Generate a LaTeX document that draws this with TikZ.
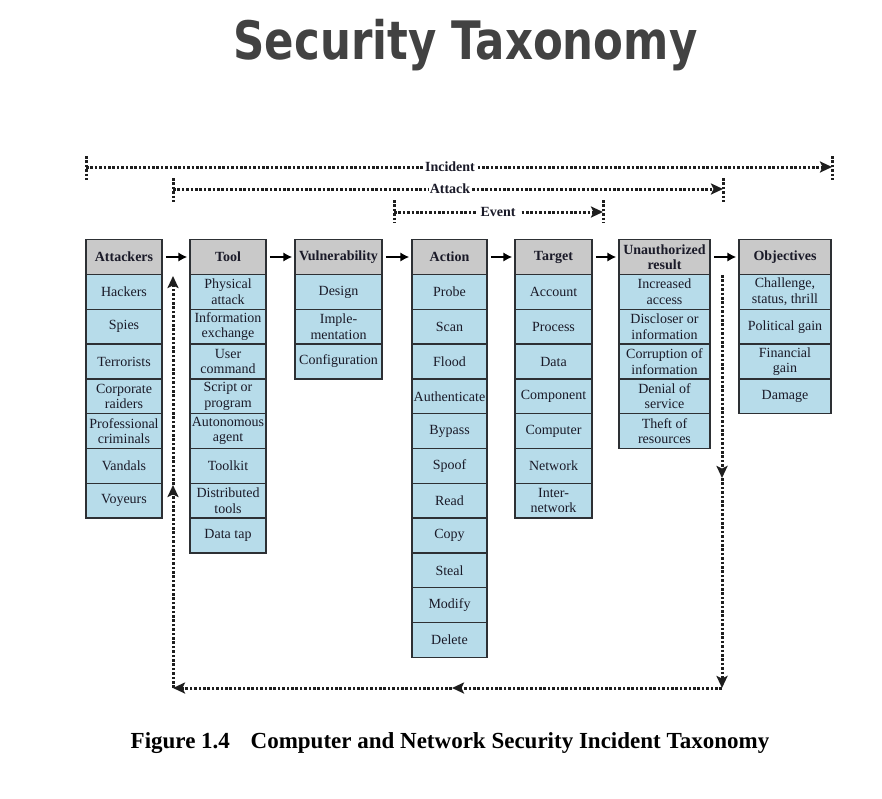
\documentclass[tikz,border=0pt]{standalone}
\usepackage{fontspec}
\usepackage{graphicx}
\setmainfont{Liberation Serif}
\newfontfamily\titlefont{DejaVu Sans}
\usetikzlibrary{arrows.meta}
\definecolor{hdrfill}{RGB}{201,201,201}
\definecolor{cellfill}{RGB}{183,220,234}
\definecolor{boxline}{RGB}{45,48,52}
\definecolor{txt}{RGB}{26,26,40}
\definecolor{titlegray}{RGB}{66,66,66}
\definecolor{dotcol}{RGB}{30,30,30}
\newcommand\taxcol[5]{%
  \node[hdr, minimum width=#3] (#1) at (#2,257) {#4};
  \foreach \t [count=\k] in {#5} {
    \node[cell, minimum width=#3] (#1-\k) at (#2, 274.5+34.8*\k-17.4) {\t};
  }
}
\tikzset{
  hdr/.style={draw=boxline, fill=hdrfill, line width=1.5, minimum height=34.8,
    inner sep=0pt, align=center, text=txt,
    font=\bfseries\fontsize{14}{14.5}\selectfont},
  cell/.style={draw=boxline, fill=cellfill, line width=1.5, minimum height=34.8,
    inner sep=0pt, align=center, text=txt,
    font=\fontsize{14}{15.5}\selectfont},
  flow/.style={line width=2.8, black, -{Latex[length=9,width=9.5]}},
  dotline/.style={line width=3, dotcol, dash pattern=on 2.6pt off 1.8pt},
  dotarrow/.style={dotline, -{Stealth[length=12,width=11,inset=2.5]}},
  rlabel/.style={fill=white, inner xsep=1pt, inner ysep=0pt, text=txt,
    font=\bfseries\fontsize{14}{14}\selectfont},
}
\begin{document}
\begin{tikzpicture}[x=1pt,y=-1pt]
\useasboundingbox (0,0) rectangle (882,798);
% title
\node[anchor=base, text=titlegray, font=\titlefont\bfseries\fontsize{53}{53}\selectfont] (title) at (465.5,59)
  {\scalebox{0.82}[1]{Security Taxonomy}};
% range lines
\coordinate (incL) at (86,167);
\coordinate (incR) at (832,167);
\coordinate (attL) at (173,189);
\coordinate (attR) at (723,189);
\coordinate (evL) at (394,212);
\coordinate (evR) at (603,212);
\draw[dotline] ([yshift=11]incL) -- ([yshift=-13]incL);
\draw[dotline] ([yshift=11]incR) -- ([yshift=-13]incR);
\draw[dotline] ([yshift=11]attL) -- ([yshift=-13]attL);
\draw[dotline] ([yshift=11]attR) -- ([yshift=-13]attR);
\draw[dotline] ([yshift=12]evL) -- ([yshift=-11]evL);
\draw[dotline] ([yshift=12]evR) -- ([yshift=-11]evR);
\draw[dotarrow] (incL) -- (incR);
\draw[dotarrow] (attL) -- (attR);
\draw[dotarrow] (evL) -- (evR);
\node[rlabel] (incLab) at (450,167) {Incident};
\node[rlabel] (attLab) at (450,189) {Attack};
\node[rlabel, inner xsep=5pt] (evLab) at (498,212) {Event};
% columns
\taxcol{att}{124}{76}{Attackers}{Hackers, Spies, Terrorists, Corporate\\raiders, Professional\\criminals, Vandals, Voyeurs}
\taxcol{tool}{228}{76}{Tool}{Physical\\attack, Information\\exchange, User\\command, Script or\\program, Autonomous\\agent, Toolkit, Distributed\\tools, Data tap}
\taxcol{vul}{338.5}{87}{Vulnerability}{Design, Imple-\\mentation, Configuration}
\taxcol{act}{449.5}{75}{Action}{Probe, Scan, Flood, Authenticate, Bypass, Spoof, Read, Copy, Steal, Modify, Delete}
\taxcol{tgt}{553.5}{77}{Target}{Account, Process, Data, Component, Computer, Network, Inter-\\network}
\taxcol{res}{664.5}{91}{Unauthorized\\result}{Increased\\access, Discloser or\\information, Corruption of\\information, Denial of\\service, Theft of\\resources}
\taxcol{obj}{785}{92}{Objectives}{{Challenge,\\status, thrill}, Political gain, Financial\\gain, Damage}
% flow arrows
\draw[flow] ([xshift=3]att.east) -- ([xshift=-2]tool.west);
\draw[flow] ([xshift=3]tool.east) -- ([xshift=-2]vul.west);
\draw[flow] ([xshift=3]vul.east) -- ([xshift=-2]act.west);
\draw[flow] ([xshift=3]act.east) -- ([xshift=-2]tgt.west);
\draw[flow] ([xshift=3]tgt.east) -- ([xshift=-2]res.west);
\draw[flow] ([xshift=3]res.east) -- ([xshift=-2]obj.west);
% feedback loop
\coordinate (dTop) at (722,275);
\coordinate (dMid) at (722,478);
\coordinate (dBot) at (722,688);
\coordinate (hMid) at (452,688);
\coordinate (uBot) at (173,688);
\coordinate (uMid) at (173,485);
\coordinate (uTop) at (173,276);
\draw[dotarrow] (dTop) -- (dMid);
\draw[dotarrow] (dMid) -- (dBot);
\draw[dotarrow] (dBot) -- (hMid);
\draw[dotarrow] (hMid) -- (uBot);
\draw[dotarrow] (uBot) -- (uMid);
\draw[dotarrow] (uMid) -- (uTop);
% caption
\node[anchor=base, text=black, font=\bfseries\fontsize{23}{23}\selectfont] (caption) at (450,748) {Figure 1.4\hspace{0.9em}Computer and Network Security Incident Taxonomy};
\end{tikzpicture}
\end{document}
